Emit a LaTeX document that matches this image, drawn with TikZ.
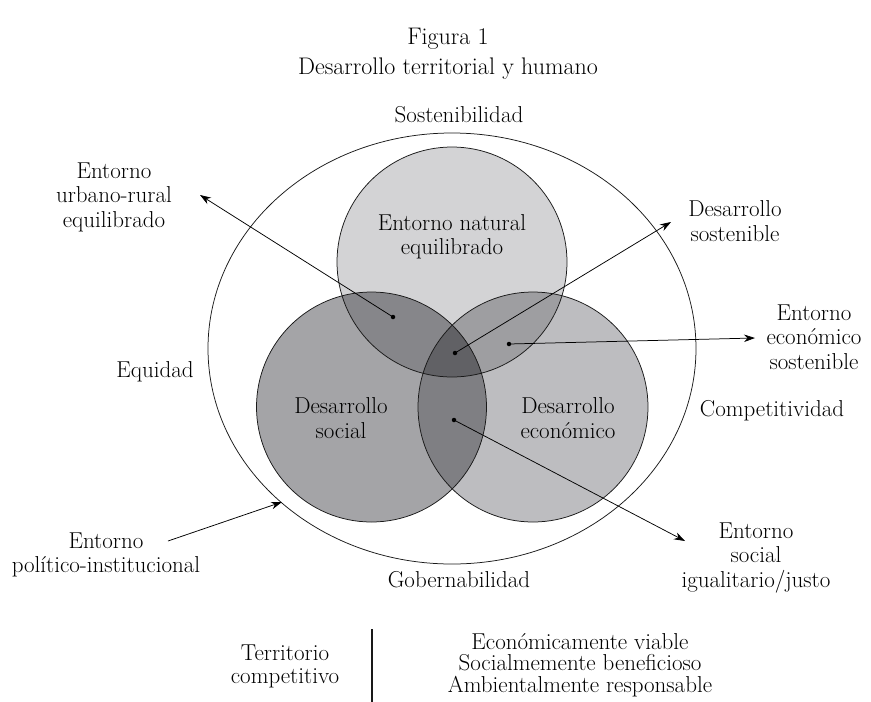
\documentclass[tikz,border=0pt]{standalone}
\usepackage{fontspec}
\usetikzlibrary{arrows.meta}
\definecolor{cT}{RGB}{211,211,213}
\definecolor{cL}{RGB}{164,164,167}
\definecolor{cR}{RGB}{189,189,192}
\definecolor{cTL}{RGB}{134,134,138}
\definecolor{cTR}{RGB}{158,158,161}
\definecolor{cLR}{RGB}{127,127,131}
\definecolor{cC}{RGB}{97,97,101}
\begin{document}
\begin{tikzpicture}[x=1pt,y=-1pt,
  lbl/.style={font=\fontsize{23}{24.5}\selectfont, align=center, inner sep=0pt, text=black},
  conn/.style={-{Stealth[length=11pt,width=7.5pt]}, line width=0.75pt},
  outline/.style={line width=0.75pt, draw=black!90},
  dotm/.style={circle, fill=black, inner sep=0pt, minimum size=4.5pt}]
\useasboundingbox (0,0) rectangle (871,702);
% Venn fills
\fill[cT] (452,262) circle (115);
\fill[cL] (371.5,407) circle (115);
\fill[cR] (533,407) circle (115);
\begin{scope}\clip (452,262) circle (115); \fill[cTL] (371.5,407) circle (115); \end{scope}
\begin{scope}\clip (452,262) circle (115); \fill[cTR] (533,407) circle (115); \end{scope}
\begin{scope}\clip (371.5,407) circle (115); \fill[cLR] (533,407) circle (115); \end{scope}
\begin{scope}\clip (452,262) circle (115); \clip (371.5,407) circle (115); \fill[cC] (533,407) circle (115); \end{scope}
\draw[outline] (452,262) circle (115);
\draw[outline] (371.5,407) circle (115);
\draw[outline] (533,407) circle (115);
\draw[outline] (452,348.5) ellipse (244 and 215.5);
% circle labels
\node[lbl] (nat) at (452,237) {Entorno natural\\equilibrado};
\node[lbl] (soc) at (341,418) {Desarrollo\\social};
\node[lbl] (eco) at (568,418) {Desarrollo\\económico};
% title
\node[lbl, font=\fontsize{24}{27}\selectfont] (fig) at (448,39) {Figura 1};
\node[lbl, font=\fontsize{24}{27}\selectfont] (tit) at (448,69) {Desarrollo territorial y humano};
% outer labels
\node[lbl] (sost) at (459,115) {Sostenibilidad};
\node[lbl] (gob) at (459,580) {Gobernabilidad};
\node[lbl] (equ) at (155,372) {Equidad};
\node[lbl] (comp) at (772,411) {Competitividad};
\node[lbl] (ur) at (114,197) {Entorno\\urbano-rural\\equilibrado};
\node[lbl] (ds) at (735,221) {Desarrollo\\sostenible};
\node[lbl] (ees) at (814,337) {Entorno\\económico\\sostenible};
\node[lbl] (sij) at (756,558) {Entorno\\social\\igualitario/justo};
\node[lbl] (pi) at (106,555) {Entorno\\político-institucional};
% dots and arrow ends
\node[dotm] (d1) at (393,317) {};
\node[dotm] (d2) at (455,353) {};
\node[dotm] (d3) at (509,344) {};
\node[dotm] (d4) at (454,420) {};
\coordinate (t1) at (200,195);
\coordinate (t2) at (671,222);
\coordinate (t3) at (755,338);
\coordinate (t4) at (685,541);
\coordinate (s5) at (168,541);
\coordinate (t5) at (282,502);
\draw[conn] (d1.center) -- (t1);
\draw[conn] (d2.center) -- (t2);
\draw[conn] (d3.center) -- (t3);
\draw[conn] (d4.center) -- (t4);
\draw[conn] (s5) -- (t5);
% bottom block
\node[lbl, font=\fontsize{23}{23}\selectfont] (terr) at (285,666) {Territorio\\competitivo};
\coordinate (v1) at (372,629);
\coordinate (v2) at (372,702);
\draw[line width=1.2pt, black!90] (v1) -- (v2);
\node[lbl, font=\fontsize{23}{21.5}\selectfont] (adj) at (580,665) {Económicamente viable\\Socialmemente beneficioso\\Ambientalmente responsable};
\end{tikzpicture}
\end{document}
